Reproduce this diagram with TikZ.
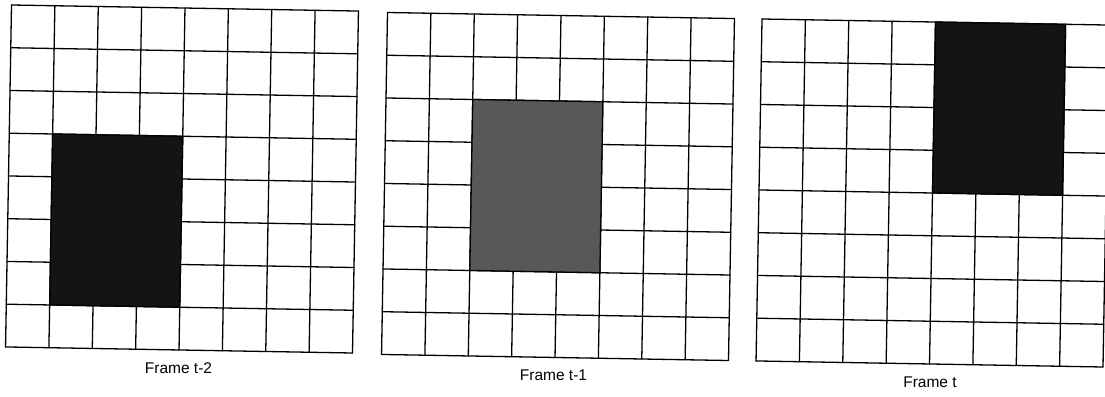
\documentclass[tikz,border=0pt]{standalone}
\usepackage{fontspec}
\setmainfont{Liberation Sans}
\usepackage{tikz}
\usetikzlibrary{positioning}
\usepackage{xcolor}
\definecolor{inkBlack}{HTML}{141414}
\definecolor{inkGray}{HTML}{585858}

\begin{document}
\begin{tikzpicture}[
    x=1pt, y=-1pt,
    frameGrid/.style={draw=black, line width=1.3pt, line cap=round},
    movingBlock/.style={draw=black, line width=1.3pt},
    frameLabel/.style={font=\fontsize{15.5}{18}\selectfont, inner sep=0pt, anchor=base}
]
    \useasboundingbox (0,0) rectangle (1105,396);

    % Frame 1: Left
    \begin{scope}[shift={(182,179)}, x=43.375pt, y=-42.75pt, rotate=-1]
        \foreach \k in {-4,...,4} {
            \draw[frameGrid] (\k,-4) -- (\k,4);
            \draw[frameGrid] (-4,\k) -- (4,\k);
        }
        \filldraw[movingBlock, fill=inkBlack] (-3,-1) rectangle (0,3);
    \end{scope}
    \node[frameLabel] (lblA) at (178.5,373) {Frame t-2};

    % Frame 2: Middle
    \begin{scope}[shift={(558,186.5)}, x=43.375pt, y=-42.75pt, rotate=-1]
        \foreach \k in {-4,...,4} {
            \draw[frameGrid] (\k,-4) -- (\k,4);
            \draw[frameGrid] (-4,\k) -- (4,\k);
        }
        \filldraw[movingBlock, fill=inkGray] (-2,-2) rectangle (1,2);
    \end{scope}
    \node[frameLabel] (lblB) at (553.5,380) {Frame t-1};

    % Frame 3: Right
    \begin{scope}[shift={(932.5,193)}, x=43.375pt, y=-42.75pt, rotate=-1]
        \foreach \k in {-4,...,4} {
            \draw[frameGrid] (\k,-4) -- (\k,4);
            \draw[frameGrid] (-4,\k) -- (4,\k);
        }
        \filldraw[movingBlock, fill=inkBlack] (0,-4) rectangle (3,0);
    \end{scope}
    \node[frameLabel] (lblC) at (930,387) {Frame t};
\end{tikzpicture}
\end{document}
